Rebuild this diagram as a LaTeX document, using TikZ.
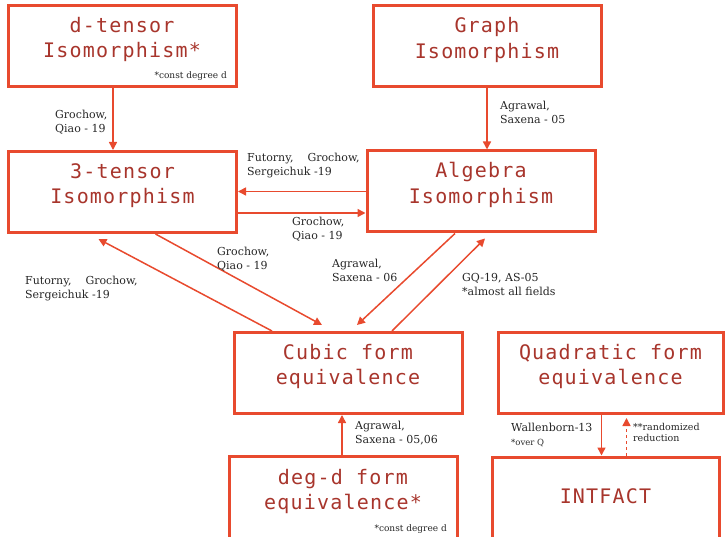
\documentclass[tikz,border=0pt]{standalone}
\usepackage{fontspec}
\setmainfont{DejaVu Serif}
\newfontfamily\boxfont[LetterSpace=6]{DejaVu Sans Mono}
\usetikzlibrary{arrows.meta}

\definecolor{redline}{HTML}{E84A2E}
\definecolor{redtext}{HTML}{A8352C}
\definecolor{labeltext}{HTML}{262626}

\tikzset{
  probbox/.style={draw=redline, line width=3pt, fill=white, minimum width=228pt, minimum height=81pt,
    inner sep=0pt, align=center, text=redtext, text depth=17pt,
    font=\boxfont\fontsize{20}{25.5}\selectfont},
  reduct/.style={draw=redline, line width=1.5pt, -{Triangle[length=8pt,width=8pt]}},
  refnote/.style={anchor=north west, inner sep=0pt, align=left, text=labeltext,
    font=\fontsize{11}{14}\selectfont},
  smallnote/.style={inner sep=0pt, text=labeltext, font=\fontsize{9}{10}\selectfont},
}

\begin{document}
\begin{tikzpicture}[x=1pt, y=-1pt]
\useasboundingbox (0,0) rectangle (726,537);
\clip (0,0) rectangle (726,537);

% problems
\node[probbox] (dten)  at (122,46)    {d-tensor\\Isomorphism*};
\node[probbox] (graph) at (487,46.5)  {Graph\\Isomorphism};
\node[probbox] (tten)  at (122.5,192) {3-tensor\\Isomorphism};
\node[probbox] (alg)   at (481,191.5) {Algebra\\Isomorphism};
\node[probbox] (cubic) at (348,373)   {Cubic form\\equivalence};
\node[probbox, minimum width=225pt] (quad) at (610.5,373) {Quadratic form\\equivalence};
\node[probbox, minimum height=84pt] (degd) at (343,498) {deg-d form\\equivalence*};
\node[probbox, minimum width=227pt, minimum height=84pt, text depth=5pt] (intf) at (605.5,499) {INTFACT};

\node[smallnote, anchor=base east] (dtnote) at (227,79)  {*const degree d};
\node[smallnote, anchor=base east] (ddnote) at (447,531) {*const degree d};

% reductions
\draw[reduct] ([xshift=-9pt]dten.south) -- ([xshift=-9pt]dten.south |- tten.north);
\draw[reduct] (graph.south) -- (graph.south |- alg.north);
\draw[reduct] (alg.west) -- (alg.west -| tten.east);
\draw[reduct] ([yshift=-21pt]tten.east) -- ([yshift=-21pt]tten.east -| alg.west);
\draw[reduct] ([xshift=-76pt]cubic.north) -- ([xshift=-24pt,yshift=-5pt]tten.south);
\draw[reduct] ([xshift=33pt]tten.south) -- ([xshift=-26pt,yshift=6pt]cubic.north);
\draw[reduct] ([xshift=-26pt]alg.south) -- ([xshift=9pt,yshift=6pt]cubic.north);
\draw[reduct] ([xshift=44pt]cubic.north) -- ([xshift=4pt,yshift=-5pt]alg.south);
\draw[reduct] ([xshift=-1pt]degd.north) -- ([xshift=-1pt]degd.north |- cubic.south);
\draw[reduct] ([xshift=-9pt]quad.south) -- ([xshift=-9pt]quad.south |- intf.north);
\draw[reduct, dash pattern=on 3pt off 3pt] ([xshift=16pt]quad.south |- intf.north) -- ([xshift=16pt,yshift=-3pt]quad.south);

% references
\node[refnote] (lgq1)  at (55,109.5)  {Grochow,\\Qiao - 19};
\node[refnote] (las1)  at (500,100.5) {Agrawal,\\Saxena - 05};
\node[refnote] (lfgs1) at (247,152.5) {Futorny,\hspace{14pt}Grochow,\\Sergeichuk -19};
\node[refnote] (lgq2)  at (292,216.5) {Grochow,\\Qiao - 19};
\node[refnote] (lgq3)  at (217,246.5) {Grochow,\\Qiao - 19};
\node[refnote] (lfgs2) at (25,275.5)  {Futorny,\hspace{14pt}Grochow,\\Sergeichuk -19};
\node[refnote] (las2)  at (332,258.5) {Agrawal,\\Saxena - 06};
\node[refnote] (lgqas) at (462,273.5) {GQ-19, AS-05\\*almost all fields};
\node[refnote] (las3)  at (355,420.5) {Agrawal,\\Saxena - 05,06};
\node[refnote] (lwal)  at (511,422.5) {Wallenborn-13\\{\fontsize{8.5}{10}\selectfont *over Q}};
\node[refnote, font=\fontsize{9.5}{11}\selectfont] (lrand) at (633,423) {**randomized\\reduction};
\end{tikzpicture}
\end{document}
